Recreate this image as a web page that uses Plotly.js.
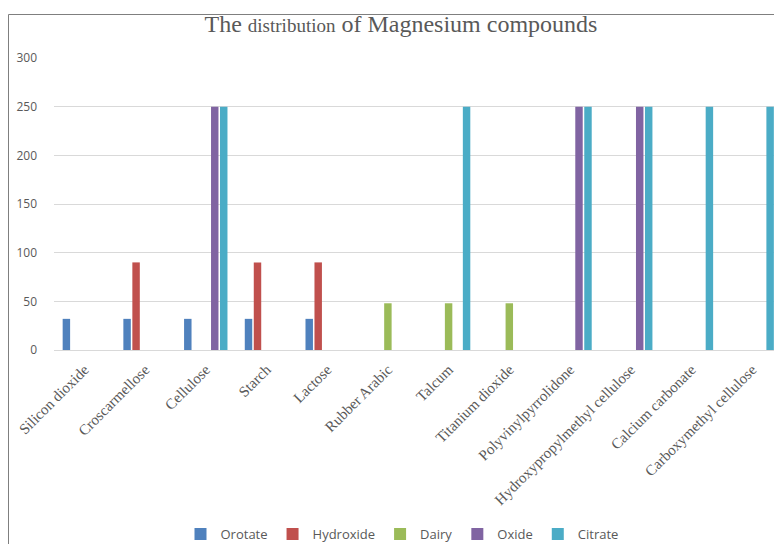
<!DOCTYPE html>
<html>
<head>
<meta charset="utf-8">
<script src="https://cdn.plot.ly/plotly-3.0.1.min.js"></script>
<style>html,body{margin:0;padding:0;background:#fff;}#chart{width:774px;height:544px;}</style>
</head>
<body>
<div id="chart"></div>
<script>
const categories = ["Silicon dioxide","Croscarmellose","Cellulose","Starch","Lactose","Rubber Arabic","Talcum","Titanium dioxide","Polyvinylpyrrolidone","Hydroxypropylmethyl cellulose","Calcium carbonate","Carboxymethyl cellulose"];
const orotate   = [32, 32, 32, 32, 32, null, null, null, null, null, null, null];
const hydroxide = [null, 90, null, 90, 90, null, null, null, null, null, null, null];
const dairy     = [null, null, null, null, null, 48, 48, 48, null, null, null, null];
const oxide     = [null, null, 250, null, null, null, null, null, 250, 250, null, null];
const citrate   = [null, null, 250, null, null, null, 250, null, 250, 250, 250, 250];
const seriesNames = ["Orotate","Hydroxide","Dairy","Oxide","Citrate"];
const seriesColors = ["#4F81BD","#C0504D","#9BBB59","#8064A2","#4BACC6"];
const seriesValues = [orotate, hydroxide, dairy, oxide, citrate];
const yTicks = [0, 50, 100, 150, 200, 250, 300];

const traces = seriesValues.map((v, i) => ({
  type: 'bar', x: categories, y: v, name: seriesNames[i],
  marker: {color: seriesColors[i]}, hoverinfo: 'x+y+name'
}));

const L = 54, T = 58, B = 194, W = 774, H = 544;
const pw = W - L, ph = H - T - B;
const px = v => (v - L) / pw;
const py = v => (H - B - v) / ph;

const layout = {
  width: W, height: H,
  margin: {l: L, r: 0, t: T, b: B, pad: 0, autoexpand: false},
  paper_bgcolor: '#fff', plot_bgcolor: '#fff',
  barmode: 'group', bargap: 0.26, bargroupgap: 0.17,
  showlegend: true,
  title: {
    text: 'The <span style="font-size:19px">distribution</span> of Magnesium compounds',
    font: {family: 'Liberation Serif, serif', size: 24, color: '#595959'},
    x: 401 / W, xanchor: 'center', y: 1 - 24 / H, yanchor: 'middle', automargin: false
  },
  xaxis: {
    type: 'category', range: [-0.5, 11.36], tickangle: -45, automargin: false,
    tickfont: {family: 'Liberation Serif, serif', size: 15, color: '#595959'},
    showgrid: false, showline: true, linecolor: '#d9d9d9', linewidth: 1,
    ticks: '', ticklabelstandoff: 4, fixedrange: true
  },
  yaxis: {
    range: [0, 300], tickvals: yTicks, ticktext: yTicks.map(String), automargin: false,
    tickfont: {family: 'Open Sans, sans-serif', size: 12, color: '#595959'},
    showgrid: true, gridcolor: '#d9d9d9', gridwidth: 1,
    zeroline: true, zerolinecolor: '#d9d9d9', showline: false,
    ticks: '', ticklabelstandoff: 16, fixedrange: true
  },
  legend: {
    orientation: 'h', x: px(402), xanchor: 'center', y: py(549), yanchor: 'bottom',
    font: {family: 'Open Sans, sans-serif', size: 13, color: '#595959'},
    itemwidth: 30, tracegroupgap: 0, bgcolor: 'rgba(0,0,0,0)'
  },
  shapes: [
    {type: 'line', xref: 'paper', yref: 'paper', x0: px(8.5), x1: px(8.5), y0: py(14.5), y1: py(544),
     line: {color: '#7f7f7f', width: 1}},
    {type: 'line', xref: 'paper', yref: 'paper', x0: px(8.5), x1: px(774), y0: py(14.5), y1: py(14.5),
     line: {color: '#7f7f7f', width: 1}}
  ]
};

Plotly.newPlot('chart', traces, layout, {displayModeBar: false, responsive: false});
</script>
</body>
</html>
